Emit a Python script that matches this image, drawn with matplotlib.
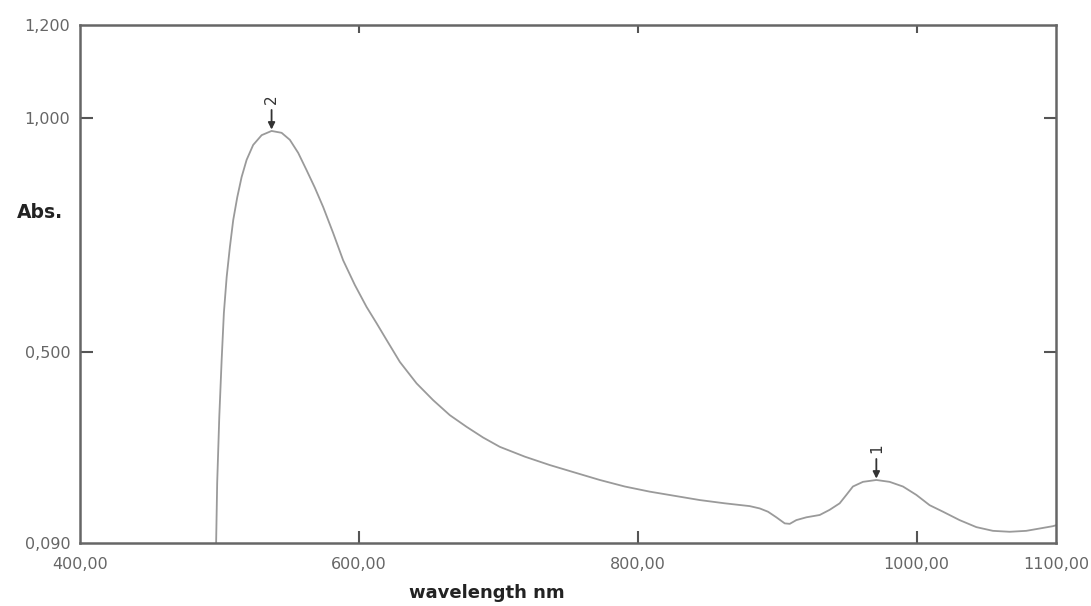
import numpy as np
import matplotlib.pyplot as plt

# absorption spectrum, wavelength (nm) vs absorbance
wavelength = [497.4, 498.4, 499.9, 501.6, 503.2, 505.2, 507.5, 509.9, 512.8, 515.9,
              519.5, 524.2, 530.3, 537.4, 544.6, 550.5, 556.5, 562.5, 568.5, 574.4,
              581.6, 588.7, 597.1, 605.5, 612.7, 619.9, 629.4, 641.4, 653.3, 665.2,
              677.2, 689.1, 701.1, 719.0, 736.9, 754.8, 772.8, 790.7, 808.6, 826.5,
              844.4, 862.4, 880.3, 887.5, 893.4, 899.4, 905.4, 909.0, 913.7, 920.9,
              930.5, 937.6, 944.8, 949.6, 954.3, 961.5, 971.1, 980.6, 990.2, 999.8,
              1009.3, 1018.9, 1030.8, 1042.8, 1054.7, 1066.7, 1078.6, 1088.2, 1097.7, 1100.0]
absorbance = [0.050, 0.219, 0.360, 0.482, 0.583, 0.660, 0.724, 0.782, 0.831, 0.874,
              0.911, 0.943, 0.964, 0.973, 0.969, 0.954, 0.926, 0.889, 0.851, 0.810,
              0.754, 0.696, 0.643, 0.596, 0.561, 0.525, 0.478, 0.432, 0.396, 0.364,
              0.339, 0.316, 0.296, 0.275, 0.257, 0.241, 0.225, 0.211, 0.200, 0.191,
              0.182, 0.175, 0.169, 0.164, 0.157, 0.145, 0.132, 0.131, 0.139, 0.145,
              0.150, 0.161, 0.175, 0.193, 0.211, 0.221, 0.225, 0.221, 0.211, 0.193,
              0.171, 0.157, 0.139, 0.124, 0.116, 0.114, 0.116, 0.121, 0.126, 0.128]

# marked peaks
peak_nm = [971.1, 537.4]
peak_abs = [0.225, 0.973]
peak_labels = ['1', '2']

xticks = [400, 600, 800, 1000, 1100]
xtick_labels = ['400,00', '600,00', '800,00', '1000,00', '1100,00']
yticks = [0.09, 0.5, 1.0, 1.2]
ytick_labels = ['0,090', '0,500', '1,000', '1,200']

fig = plt.figure(figsize=(10.91, 6.06), dpi=100)
ax = fig.add_axes([0.0733, 0.104, 0.8947, 0.8547])

ax.plot(wavelength, absorbance, color='#9a9a9a', lw=1.3)

for x, y, lab in zip(peak_nm, peak_abs, peak_labels):
    ax.annotate('', xy=(x, y), xycoords='data',
                xytext=(0, 21), textcoords='offset pixels',
                arrowprops=dict(arrowstyle='-|>', color='#333333', lw=1.3,
                                mutation_scale=10, shrinkA=0, shrinkB=1))
    ax.annotate(lab, xy=(x, y), xycoords='data',
                xytext=(0, 32), textcoords='offset pixels',
                rotation=90, ha='center', va='center',
                fontsize=11, color='#333333')

ax.set_xlim(400, 1100)
ax.set_ylim(0.09, 1.2)

ax.set_xticks(xticks)
ax.set_xticklabels(xtick_labels)
ax.set_yticks(yticks)
ax.set_yticklabels(ytick_labels)
ax.tick_params(axis='both', direction='in', length=9, width=1.5,
               colors='#555555', labelsize=11.5, labelcolor='#666666')
ax.tick_params(axis='x', top=True, pad=10)
ax.tick_params(axis='y', right=True, pad=7)

# top ticks are shorter
for t in ax.xaxis.get_major_ticks():
    t.tick2line.set_markersize(6)

# corner ticks have labels only
for t in [ax.xaxis.get_major_ticks()[0], ax.xaxis.get_major_ticks()[-1],
          ax.yaxis.get_major_ticks()[0], ax.yaxis.get_major_ticks()[-1]]:
    t.tick1line.set_visible(False)
    t.tick2line.set_visible(False)

for s in ax.spines.values():
    s.set_color('#666666')
    s.set_linewidth(1.8)

fig.text(17 / 1091, 1 - 212 / 606, 'Abs.', fontsize=13.5, fontweight='bold',
         color='#222222', ha='left', va='center')
fig.text(487 / 1091, 1 - 593 / 606, 'wavelength nm', fontsize=13, fontweight='bold',
         color='#222222', ha='center', va='center')

fig.savefig('out.png', dpi=100)
